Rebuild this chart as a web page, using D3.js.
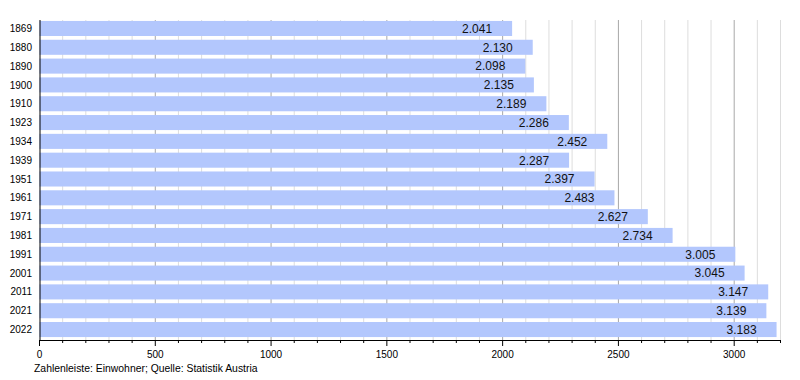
<!DOCTYPE html>
<html><head><meta charset="utf-8">
<script src="https://cdn.jsdelivr.net/npm/d3@7"></script>
<style>body{margin:0;background:#fff}svg{display:block;font-family:"Liberation Sans",Arial,sans-serif}</style>
</head><body><svg id="c" width="800" height="380"></svg>
<script>
const years = ["1869","1880","1890","1900","1910","1923","1934","1939","1951","1961","1971","1981","1991","2001","2011","2021","2022"];
const population = [2041,2130,2098,2135,2189,2286,2452,2287,2397,2483,2627,2734,3005,3045,3147,3139,3183];
const xTicks = [0,500,1000,1500,2000,2500,3000];
const source = "Zahlenleiste: Einwohner; Quelle: Statistik Austria";

const svg = d3.select("#c");
const x = d3.scaleLinear().domain([0,3200]).range([39.5,780.5]);
const y = d3.scaleBand().domain(years).range([20,338]).paddingInner(0.2).paddingOuter(0.05);
const plotTop = 20, plotBottom = 340;

// grid
const minor = d3.range(100,3201,100).filter(v=>v%500!==0);
svg.append("g").selectAll("line").data(minor).join("line")
  .attr("x1",d=>x(d)).attr("x2",d=>x(d)).attr("y1",plotTop).attr("y2",plotBottom)
  .attr("stroke","#dddddd").attr("stroke-width",1);
svg.append("g").selectAll("line").data(xTicks.filter(v=>v>0)).join("line")
  .attr("x1",d=>x(d)).attr("x2",d=>x(d)).attr("y1",plotTop).attr("y2",plotBottom)
  .attr("stroke","#a8a8a8").attr("stroke-width",1);

// bars
svg.append("g").selectAll("rect").data(years).join("rect")
  .attr("x",x(0)).attr("y",d=>y(d))
  .attr("width",(d,i)=>x(population[i])-x(0)).attr("height",y.bandwidth())
  .attr("fill","#b3c7fd");

// value labels
svg.append("g").selectAll("text").data(years).join("text")
  .attr("x",(d,i)=>x(population[i])-20).attr("y",d=>y(d)+y.bandwidth()/2)
  .attr("dy","0.36em").attr("text-anchor","end").attr("font-size",12).attr("fill","#111")
  .text((d,i)=>d3.format(".3f")(population[i]/1000));

// y labels
svg.append("g").selectAll("text").data(years).join("text")
  .attr("x",32).attr("y",d=>y(d)+y.bandwidth()/2)
  .attr("dy","0.36em").attr("text-anchor","end").attr("font-size",10).attr("fill","#000")
  .text(d=>d);

// axes lines
svg.append("line").attr("x1",40).attr("x2",40).attr("y1",plotTop).attr("y2",plotBottom).attr("stroke","#000");
svg.append("line").attr("x1",39.5).attr("x2",x(3200)).attr("y1",plotBottom+0.5).attr("y2",plotBottom+0.5).attr("stroke","#000");
svg.append("g").selectAll("line").data(minor).join("line")
  .attr("x1",d=>x(d)).attr("x2",d=>x(d)).attr("y1",plotBottom).attr("y2",plotBottom+3)
  .attr("stroke","#000");
svg.append("g").selectAll("line").data(xTicks).join("line")
  .attr("x1",d=>x(d)).attr("x2",d=>x(d)).attr("y1",plotBottom).attr("y2",plotBottom+6)
  .attr("stroke","#000");
svg.append("g").selectAll("text").data(xTicks).join("text")
  .attr("x",d=>x(d)).attr("y",358).attr("text-anchor","middle").attr("font-size",10).attr("fill","#000")
  .text(d=>d);

svg.append("text").attr("x",34).attr("y",372).attr("font-size",10.4).attr("fill","#000").text(source);
</script></body></html>
